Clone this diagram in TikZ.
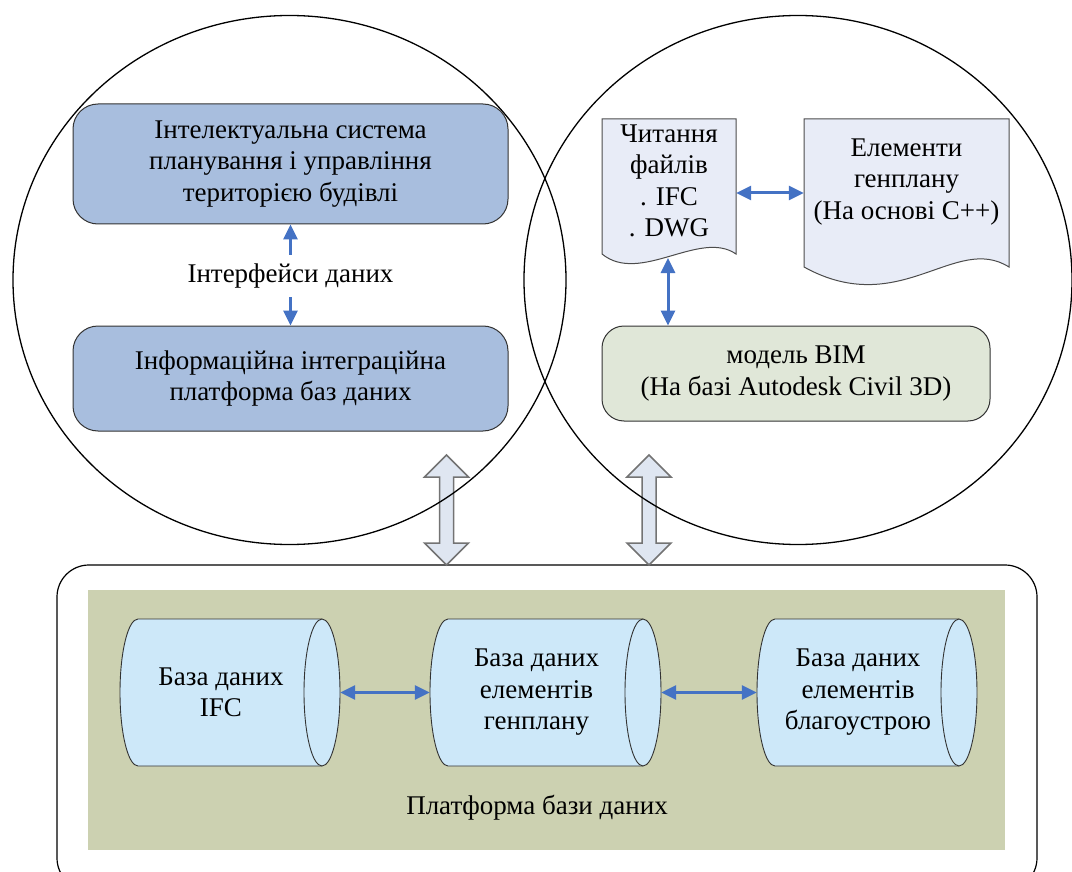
\documentclass[tikz,border=0pt]{standalone}
\usepackage{fontspec}
\setmainfont{Liberation Serif}
\usepackage{xcolor}
\usetikzlibrary{arrows.meta,positioning}

\definecolor{arrowblue}{HTML}{4472C4}
\definecolor{boxblue}{HTML}{A8BEDE}
\definecolor{docfill}{HTML}{E8ECF7}
\definecolor{bimfill}{HTML}{E0E7D8}
\definecolor{platolive}{HTML}{CCD1B1}
\definecolor{dbfill}{HTML}{CDE8F9}
\definecolor{hollowfill}{HTML}{DFE6F1}

\tikzset{
  infobox/.style={draw=black!80, fill=boxblue, line width=1pt, rounded corners=25pt, align=center, minimum width=435pt, inner sep=0pt},
  bimbox/.style={draw=black!80, fill=bimfill, line width=1pt, rounded corners=22pt, align=center, minimum width=388pt, minimum height=95pt, inner sep=0pt},
  docshape/.style={draw=black!70, fill=docfill, line width=1pt},
  dbline/.style={draw=black!80, line width=0.9pt},
  bigarrow/.style={draw=black!55, fill=hollowfill, line width=1.5pt, line join=miter},
  dataarrows/.style={arrowblue, line width=3pt, {Triangle[length=15pt,width=14pt]}-{Triangle[length=15pt,width=14pt]}},
  dataarrow/.style={arrowblue, line width=3pt, -{Triangle[length=15pt,width=14pt]}},
}

% database cylinder: name, left corner x, right corner x, text
\newcommand{\dbcyl}[4]{%
  \fill[dbfill] (#2,619) rectangle (#3,766);
  \draw[dbline, fill=dbfill] (#3,619) -- (#2,619) arc[start angle=270, end angle=90, x radius=18, y radius=73.5] -- (#3,766);
  \draw[dbline, fill=dbfill] (#3,692.5) ellipse[x radius=18, y radius=73.5];
  \node[minimum width={#3-#2+36}, minimum height=147pt, inner sep=0pt,
        label={[align=center, xshift=-9pt]center:{#4}}] (#1) at ({(#2+#3)/2},692.5) {};
}

\begin{document}
\begin{tikzpicture}[x=1pt, y=-1pt, font=\fontsize{27}{31.5}\selectfont]
  \useasboundingbox (0,0) rectangle (1072,872);

  % platform at the bottom
  \draw[line width=1.2pt, rounded corners=32pt] (57,565) rectangle (1037,890);
  \fill[platolive] (88,590) rectangle (1005,850);
  \node (plat) at (537,808) {Платформа бази даних};

  % hollow arrows between the two circles and the platform
  \draw[bigarrow] (446.5,455) -- (468.5,477) -- (453.5,477) -- (453.5,543) -- (468.5,543) -- (446.5,565)
        -- (424.5,543) -- (439.5,543) -- (439.5,477) -- (424.5,477) -- cycle;
  \draw[bigarrow] (649,455) -- (671,477) -- (656,477) -- (656,543) -- (671,543) -- (649,565)
        -- (627,543) -- (642,543) -- (642,477) -- (627,477) -- cycle;

  \draw[line width=1.3pt] (289.5,280) ellipse[x radius=276.5, y radius=264.5];
  \draw[line width=1.3pt] (798,280) ellipse[x radius=274, y radius=264.5];

  % left circle
  \node[infobox, minimum height=120pt] (isys) at (290.5,164)
       {Інтелектуальна система\\планування і управління\\територією будівлі};
  \node[infobox, minimum height=105pt] (iplat) at (290.5,378.5)
       {Інформаційна інтеграційна\\платформа баз даних};
  \node[minimum height=42pt, inner sep=0pt] (intf) at (290.5,276) {Інтерфейси даних};
  \draw[dataarrow] (intf) -- (isys);
  \draw[dataarrow] (intf) -- (iplat);

  % right circle
  \draw[docshape] (602,119) -- (736,119) -- (736,254)
        .. controls (700,229) and (640,285) .. (602,254) -- cycle;
  \draw[docshape] (804,119) -- (1009,119) -- (1009,267)
        .. controls (955,233) and (900,320) .. (804,267) -- cycle;
  \node[align=center, minimum width=134pt, inner sep=0pt] (rd) at (669,181)
       {Читання\\файлів\\. IFC\\. DWG};
  \node[align=center, minimum width=205pt, inner sep=0pt] (eg) at (906.5,182)
       {Елементи\\генплану\\(На основі C++)};
  \node[bimbox] (bim) at (796,373.5) {модель BIM\\(На базі Autodesk Civil 3D)};

  \coordinate (rdmid) at ([yshift=-12pt]rd.east);
  \coordinate (rdbot) at (668,258);
  \draw[dataarrows] (rdmid) -- (rdmid -| eg.west);
  \draw[dataarrows] (rdbot) -- (rdbot |- bim.north);

  % databases
  \dbcyl{dbifc}{138}{322}{База даних\\IFC}
  \dbcyl{dbgen}{448}{643}{База даних\\елементів\\генплану}
  \dbcyl{dbbl}{775}{959}{База даних\\елементів\\благоустрою}
  \draw[dataarrows] (dbifc.east) -- (dbgen.west);
  \draw[dataarrows] (dbgen.east) -- (dbbl.west);
\end{tikzpicture}
\end{document}
